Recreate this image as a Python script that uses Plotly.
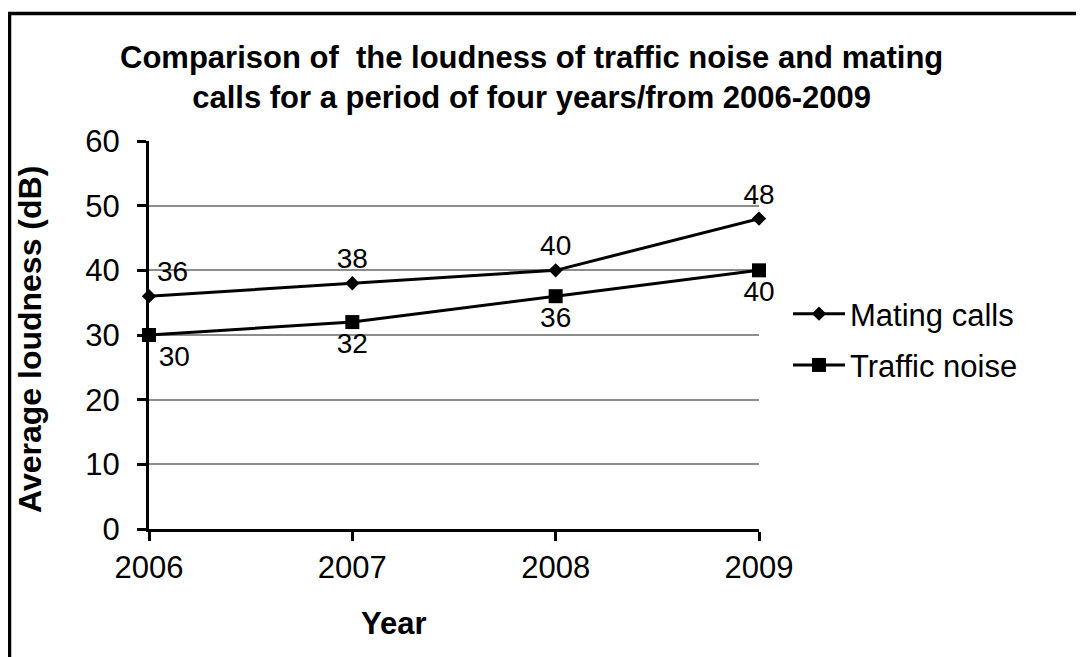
import plotly.graph_objects as go

years = [2006, 2007, 2008, 2009]
mating_calls = [36, 38, 40, 48]
traffic_noise = [30, 32, 36, 40]
y_ticks = [0, 10, 20, 30, 40, 50, 60]

W, H = 1084, 657
OFF = 8  # default page margin of the HTML body
L, R, T, B = 149, 759, 141, 529

FONT = "Liberation Sans, Arial, sans-serif"
FS_TICK = 31
FS_LAB = 28

fig = go.Figure()
fig.add_trace(go.Scatter(
    x=years, y=mating_calls, name="Mating calls", mode="lines+markers+text",
    legendgroup="a",
    line=dict(color="black", width=3),
    marker=dict(symbol="diamond", size=11, color="black"),
    text=[str(v) for v in mating_calls],
    textposition=["top right", "top center", "top center", "top center"],
    textfont=dict(family=FONT, size=FS_LAB, color="black"),
    cliponaxis=False,
))
fig.add_trace(go.Scatter(
    x=years, y=traffic_noise, name="Traffic noise", mode="lines+markers+text",
    legendgroup="b",
    line=dict(color="black", width=3),
    marker=dict(symbol="square", size=14, color="black"),
    text=[str(v) for v in traffic_noise],
    textposition=["bottom right", "bottom center", "bottom center", "bottom center"],
    textfont=dict(family=FONT, size=FS_LAB, color="black"),
    cliponaxis=False,
))

def px(x):
    return (x - L) / (R - L)

def py(y):
    return (B - y) / (B - T)

fig.update_layout(
    width=W, height=H,
    margin=dict(l=L - OFF, r=W - (R - OFF), t=T - OFF, b=H - (B - OFF), pad=0),
    paper_bgcolor="white", plot_bgcolor="white",
    font=dict(family=FONT, size=FS_TICK, color="black"),
    showlegend=True,
    legend=dict(
        x=px(788), y=py(287), xanchor="left", yanchor="top",
        xref="paper", yref="paper",
        font=dict(family=FONT, size=FS_TICK, color="black"),
        bgcolor="rgba(0,0,0,0)", tracegroupgap=8, itemwidth=52,
    ),
    xaxis=dict(
        range=[2006, 2009], tickmode="array", tickvals=years,
        ticktext=[str(y) for y in years],
        showgrid=False, zeroline=False,
        showline=True, linecolor="black", linewidth=3,
        ticks="outside", ticklen=9, tickwidth=3, tickcolor="black",
        tickfont=dict(family=FONT, size=FS_TICK, color="black"),
    ),
    yaxis=dict(
        range=[0, 60], tickmode="array", tickvals=y_ticks,
        showgrid=True, gridcolor="#8c8c8c", gridwidth=1.5, zeroline=False,
        showline=True, linecolor="black", linewidth=3,
        ticks="outside", ticklen=9, tickwidth=3, tickcolor="black",
        ticklabelstandoff=11,
        tickfont=dict(family=FONT, size=FS_TICK, color="black"),
    ),
    annotations=[
        dict(text="<b>Comparison of  the loudness of traffic noise and mating<br>calls for a period of four years/from 2006-2009</b>",
             x=px(531), y=py(78), xref="paper", yref="paper",
             xanchor="center", yanchor="middle", showarrow=False,
             font=dict(family=FONT, size=31, color="black")),
        dict(text="<b>Average loudness (dB)</b>",
             x=px(30), y=py(340), xref="paper", yref="paper",
             xanchor="center", yanchor="middle", showarrow=False, textangle=-90,
             font=dict(family=FONT, size=32, color="black")),
        dict(text="<b>Year</b>",
             x=px(394), y=py(623), xref="paper", yref="paper",
             xanchor="center", yanchor="middle", showarrow=False,
             font=dict(family=FONT, size=31, color="black")),
    ],
    shapes=[
        dict(type="rect", xref="paper", yref="paper",
             x0=px(9.5), y0=py(13.5), x1=px(1120), y1=py(700),
             line=dict(color="black", width=3.5), fillcolor="rgba(0,0,0,0)",
             layer="above"),
    ],
)

fig.write_html("out.html")
